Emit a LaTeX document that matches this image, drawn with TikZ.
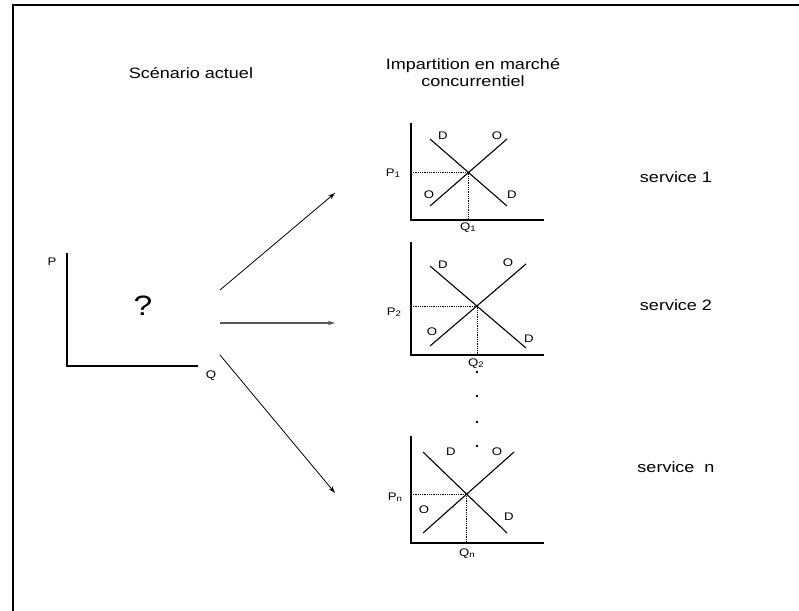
\documentclass[tikz,border=0pt]{standalone}
\usepackage{fontspec}
\setmainfont[FakeStretch=1.2]{Liberation Sans}
\usetikzlibrary{arrows.meta}
\newcommand\subidx[1]{\raisebox{-1pt}{\fontsize{8}{9}\selectfont #1}}
\begin{document}
\begin{tikzpicture}[x=1pt,y=-1pt,
  axis/.style={line width=1.3pt},
  curve/.style={line width=1.1pt},
  guide/.style={densely dotted, line width=0.8pt},
  lbl/.style={font=\fontsize{11}{13}\selectfont, inner sep=0pt},
  title/.style={font=\fontsize{15}{17}\selectfont, align=center, inner sep=0pt},
  qmark/.style={font=\fontsize{28}{32}\selectfont, inner sep=0pt},
  arr/.style={line width=0.8pt, -{Stealth[length=7pt,width=4.5pt]}},
  dotn/.style={circle, fill=black, inner sep=0pt, minimum size=2.6pt}]
\useasboundingbox (0,0) rectangle (799,610);
\fill[white] (0,0) rectangle (799,610);
% frame
\coordinate (fr1) at (13,612);
\coordinate (fr2) at (13,5);
\coordinate (fr3) at (801,5);
\draw[line width=2.5pt] (fr1) -- (fr2) -- (fr3);
% titles
\node[title] (t1) at (191,73) {Scénario actuel};
\node[title] (t2) at (473,72.5) {Impartition en marché\\concurrentiel};
\node[title] (s1) at (676,177) {service 1};
\node[title] (s2) at (676,305) {service 2};
\node[title] (sn) at (676,467) {service\ \ n};
% left graph
\coordinate (l0top) at (67,253);
\coordinate (l0o) at (67,366);
\coordinate (l0r) at (198,366);
\draw[axis] (l0top) -- (l0o) -- (l0r);
\node[lbl] (lP) at (52,262) {P};
\node[lbl] (lQ) at (211,376) {Q};
\node[qmark] (lq) at (143,306) {?};
% arrows
\coordinate (a1s) at (220,290); \coordinate (a1e) at (335,193);
\coordinate (a2s) at (220,323); \coordinate (a2e) at (335,323);
\coordinate (a3s) at (220,355); \coordinate (a3e) at (335,493);
\draw[arr] (a1s) -- (a1e);
\draw[arr, line width=1.2pt, black!65] (a2s) -- (a2e);
\draw[arr] (a3s) -- (a3e);
% graph 1
\coordinate (g1top) at (411,123);
\coordinate (g1o) at (411,220);
\coordinate (g1r) at (544,220);
\draw[axis] (g1top) -- (g1o) -- (g1r);
\coordinate (g1d1) at (430,139); \coordinate (g1d2) at (507,206);
\coordinate (g1s1) at (430,206); \coordinate (g1s2) at (507,139);
\draw[curve] (g1d1) -- (g1d2);
\draw[curve] (g1s1) -- (g1s2);
\coordinate (g1e) at (468.5,172.5);
\coordinate (g1py) at (411,172.5);
\coordinate (g1qx) at (468.5,220);
\draw[guide] (g1py) -- (g1e) -- (g1qx);
\node[lbl] (g1Dt) at (443,136) {D};
\node[lbl] (g1Ot) at (497,136) {O};
\node[lbl] (g1Ob) at (429,195) {O};
\node[lbl] (g1Db) at (512,195) {D};
\node[lbl] (g1P) at (393,173) {P\subidx{1}};
\node[lbl] (g1Q) at (468,228) {Q\subidx{1}};
% graph 2
\coordinate (g2top) at (411,242);
\coordinate (g2o) at (411,355);
\coordinate (g2r) at (544,355);
\draw[axis] (g2top) -- (g2o) -- (g2r);
\coordinate (g2d1) at (430,266); \coordinate (g2d2) at (526,348);
\coordinate (g2s1) at (430,346); \coordinate (g2s2) at (526,264);
\draw[curve] (g2d1) -- (g2d2);
\draw[curve] (g2s1) -- (g2s2);
\coordinate (g2e) at (477,306);
\coordinate (g2py) at (411,306);
\coordinate (g2qx) at (477,355);
\draw[guide] (g2py) -- (g2e) -- (g2qx);
\node[lbl] (g2Dt) at (443,265) {D};
\node[lbl] (g2Ot) at (508,263) {O};
\node[lbl] (g2Ob) at (432,332) {O};
\node[lbl] (g2Db) at (529,339) {D};
\node[lbl] (g2P) at (394,312) {P\subidx{2}};
\node[lbl] (g2Q) at (476,364) {Q\subidx{2}};
% dots
\node[dotn] (dt1) at (477,372) {};
\node[dotn] (dt2) at (477,396) {};
\node[dotn] (dt3) at (477,422) {};
\node[dotn] (dt4) at (477,446) {};
% graph n
\coordinate (g3top) at (411,436);
\coordinate (g3o) at (411,543);
\coordinate (g3r) at (544,543);
\draw[axis] (g3top) -- (g3o) -- (g3r);
\coordinate (g3d1) at (423,452); \coordinate (g3d2) at (507,533);
\coordinate (g3s1) at (423,533); \coordinate (g3s2) at (514,452);
\draw[curve] (g3d1) -- (g3d2);
\draw[curve] (g3s1) -- (g3s2);
\coordinate (g3e) at (466.7,494.1);
\coordinate (g3py) at (411,494.1);
\coordinate (g3qx) at (466.7,543);
\draw[guide] (g3py) -- (g3e) -- (g3qx);
\node[lbl] (g3Dt) at (451,452) {D};
\node[lbl] (g3Ot) at (497,452) {O};
\node[lbl] (g3Ob) at (424,510) {O};
\node[lbl] (g3Db) at (509,517) {D};
\node[lbl] (g3P) at (395,497) {P\subidx{n}};
\node[lbl] (g3Q) at (467,554) {Q\subidx{n}};
\end{tikzpicture}
\end{document}
